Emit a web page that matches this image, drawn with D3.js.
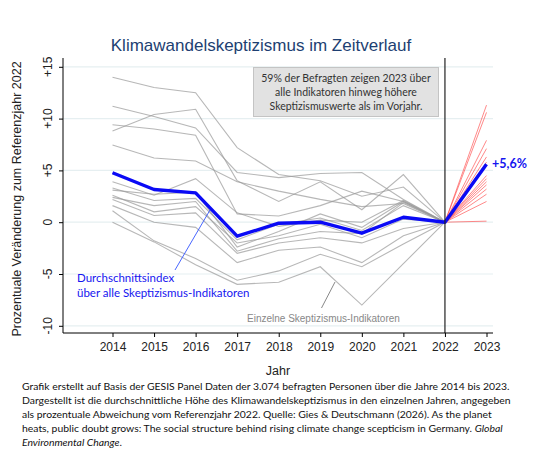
<!DOCTYPE html>
<html>
<head>
<meta charset="utf-8">
<script src="https://cdn.jsdelivr.net/npm/d3@7"></script>
<style>
  body { margin: 0; background: #fff; }
</style>
</head>
<body>
<div class="graph"></div>
<script>
// data
const years = [2014, 2015, 2016, 2017, 2018, 2019, 2020, 2021, 2022, 2023]
const yTicks = [15, 10, 5, 0, -5, -10]
const yTickLabels = ["+15", "+10", "+5", "0", "-5", "-10"]

// single indicators, 2014..2022 (relative to 2022)
const ind1 = [14.0, 13.0, 12.5, 7.2, 4.6, 4.0, 2.5, 3.4, 0]
const ind2 = [11.2, 10.2, 9.1, 4.8, 4.3, 4.7, 4.8, 2.2, 0]
const ind3 = [8.8, 10.4, 10.9, 4.0, 2.0, 3.9, 1.2, 4.6, 0]
const ind4 = [9.4, 9.0, 8.4, 0.8, 0.6, 1.6, 3.0, 2.0, 0]
const ind5 = [7.45, 6.2, 5.9, 3.9, 3.0, 2.2, 1.5, 1.8, 0]
const ind6 = [3.9, 2.6, 4.2, 0.9, -0.4, 0.2, 0.0, 2.1, 0]
const ind7 = [3.3, 2.1, 2.3, -1.7, -0.2, 0.4, -0.8, 1.6, 0]
const ind8 = [3.1, 2.7, 2.9, -2.4, -0.9, 0.8, -0.5, 2.0, 0]
const ind9 = [2.6, 1.0, 1.5, -2.0, -1.3, -0.2, -1.5, 0.3, 0]
const ind10 = [2.2, 0.65, 0.9, -3.0, -2.0, -1.5, -2.0, -0.6, 0]
const ind11 = [1.6, 0.0, -0.5, -3.9, -2.7, -2.4, -3.9, -1.3, 0]
const ind12 = [1.1, -1.8, -3.5, -5.6, -4.7, -3.1, -4.3, -2.1, 0]
const ind13 = [0.0, -1.9, -4.1, -6.0, -5.8, -4.3, -8.0, -4.0, 0]
const ind14 = [2.4, 1.6, 2.0, -2.8, -1.6, -0.9, -1.1, 1.9, 0]
const indicators = [ind1, ind2, ind3, ind4, ind5, ind6, ind7, ind8, ind9, ind10, ind11, ind12, ind13, ind14]

// change 2022 -> 2023 per indicator
const change2023 = [11.3, 10.6, 7.9, 7.1, 6.3, 5.8, 4.2, 3.9, 3.6, 3.2, 2.7, 2.0, 0.1, 4.5]

// mean index
const meanIndex = [4.77, 3.16, 2.83, -1.35, -0.1, 0.0, -1.06, 0.48, 0, 5.6]

const boxText = ["59% der Befragten zeigen 2023 über",
                 "alle Indikatoren hinweg höhere",
                 "Skeptizismuswerte als im Vorjahr."]
const caption = [
  "Grafik erstellt auf Basis der GESIS Panel Daten der 3.074 befragten Personen über die Jahre 2014 bis 2023.",
  "Dargestellt ist die durchschnittliche Höhe des Klimawandelskeptizismus in den einzelnen Jahren, angegeben",
  "als prozentuale Abweichung vom Referenzjahr 2022. Quelle: Gies & Deutschmann (2026). As the planet",
  "heats, public doubt grows: The social structure behind rising climate change scepticism in Germany. "
]

// svg
const W = 555, H = 470
const svg = d3.select('.graph')
  .append('svg')
  .attr('width', W)
  .attr('height', H)

const x = d3.scaleLinear().domain([2014, 2023]).range([112.5, 486.5])
const y = d3.scaleLinear().domain([-10, 15]).range([325.8, 66.8])

const plotL = 63, plotR = 493, plotT = 58, plotB = 333
const calibri = "Lato, 'Open Sans', sans-serif"
const arial = "'Liberation Sans', Arial, sans-serif"

// gridlines
svg.selectAll('line.grid')
  .data(yTicks)
  .enter()
  .append('line')
  .attr('class', 'grid')
  .attr('x1', plotL).attr('x2', plotR)
  .attr('y1', d => y(d)).attr('y2', d => y(d))
  .attr('stroke', '#e6eff1')
  .attr('stroke-width', 1.2)

// title
svg.append('text')
  .attr('x', 261).attr('y', 51)
  .attr('text-anchor', 'middle')
  .attr('font-family', arial)
  .attr('font-size', 17)
  .attr('fill', '#1d3f72')
  .text('Klimawandelskeptizismus im Zeitverlauf')

// annotation box
svg.append('rect')
  .attr('x', 253.5).attr('y', 67.5)
  .attr('width', 185).attr('height', 49)
  .attr('fill', '#e2e2e2')
  .attr('stroke', '#c4c4c4')
  .attr('stroke-width', 1)
svg.selectAll('text.box')
  .data(boxText)
  .enter()
  .append('text')
  .attr('class', 'box')
  .attr('x', 346)
  .attr('y', (d, i) => 82 + i * 13.8)
  .attr('text-anchor', 'middle')
  .attr('font-family', calibri)
  .attr('font-size', 10.5)
  .attr('fill', '#333')
  .text(d => d)

// gray indicator lines
const line = d3.line()
  .x((d, i) => x(years[i]))
  .y(d => y(d))

svg.selectAll('path.ind')
  .data(indicators)
  .enter()
  .append('path')
  .attr('class', 'ind')
  .attr('d', d => line(d))
  .attr('fill', 'none')
  .attr('stroke', '#999')
  .attr('stroke-opacity', 0.7)
  .attr('stroke-width', 1.1)

// red lines 2022 -> 2023
svg.selectAll('line.red')
  .data(change2023)
  .enter()
  .append('line')
  .attr('class', 'red')
  .attr('x1', x(2022)).attr('y1', y(0))
  .attr('x2', x(2023)).attr('y2', d => y(d))
  .attr('stroke', '#ff3b3b')
  .attr('stroke-opacity', 0.6)
  .attr('stroke-width', 1)

// leader lines
svg.append('line')
  .attr('x1', 175).attr('y1', 270)
  .attr('x2', 210).attr('y2', 210)
  .attr('stroke', '#3355ff').attr('stroke-width', 0.9)
svg.append('line')
  .attr('x1', 321.5).attr('y1', 308)
  .attr('x2', 335).attr('y2', 282)
  .attr('stroke', '#888').attr('stroke-width', 1)

// mean line
svg.append('path')
  .attr('d', line(meanIndex))
  .attr('fill', 'none')
  .attr('stroke', '#0a0af5')
  .attr('stroke-width', 3.4)
  .attr('stroke-linejoin', 'round')

// vertical reference line at 2022
svg.append('line')
  .attr('x1', x(2022)).attr('x2', x(2022))
  .attr('y1', plotT).attr('y2', plotB)
  .attr('stroke', '#222').attr('stroke-width', 1.2)

// axes
const yAxis = d3.axisLeft(y).tickValues(yTicks).tickSize(4).tickFormat('')
svg.append('g')
  .attr('transform', `translate(${plotL},0)`)
  .call(yAxis)
  .call(g => g.select('.domain').attr('d', `M-0,${plotT}V${plotB}`))
svg.selectAll('text.ytick')
  .data(yTicks)
  .enter()
  .append('text')
  .attr('class', 'ytick')
  .attr('transform', d => `translate(52,${y(d)}) rotate(-90)`)
  .attr('text-anchor', 'middle')
  .attr('font-family', arial)
  .attr('font-size', 12)
  .attr('fill', '#222')
  .text((d, i) => yTickLabels[i])

const xAxis = d3.axisBottom(x).tickValues(years).tickSize(4).tickFormat(d3.format('d'))
svg.append('g')
  .attr('transform', `translate(0,${plotB})`)
  .call(xAxis)
  .call(g => g.select('.domain').attr('d', `M${plotL},0H${plotR}`))
  .call(g => g.selectAll('text')
    .attr('font-family', arial)
    .attr('font-size', 12)
    .attr('fill', '#222')
    .attr('dy', '0.95em'))

svg.append('text')
  .attr('x', 278).attr('y', 375)
  .attr('text-anchor', 'middle')
  .attr('font-family', arial).attr('font-size', 12.5)
  .attr('fill', '#222')
  .text('Jahr')

svg.append('text')
  .attr('transform', 'translate(21,199) rotate(-90)')
  .attr('text-anchor', 'middle')
  .attr('font-family', arial).attr('font-size', 12.5)
  .attr('fill', '#222')
  .text('Prozentuale Veränderung zum Referenzjahr 2022')

// labels
svg.append('text')
  .attr('x', 77).attr('y', 282)
  .attr('font-family', calibri).attr('font-size', 11.5)
  .attr('fill', '#1515f0')
  .text('Durchschnittsindex')
svg.append('text')
  .attr('x', 77).attr('y', 297)
  .attr('font-family', calibri).attr('font-size', 11.5)
  .attr('fill', '#1515f0')
  .text('über alle Skeptizismus-Indikatoren')
svg.append('text')
  .attr('x', 247).attr('y', 322)
  .attr('font-family', arial).attr('font-size', 10)
  .attr('fill', '#888')
  .text('Einzelne Skeptizismus-Indikatoren')
svg.append('text')
  .attr('x', 492).attr('y', 168)
  .attr('font-family', calibri).attr('font-size', 12.5)
  .attr('font-weight', 'bold')
  .attr('fill', '#1515f0')
  .text('+5,6%')

// caption
const cap = svg.append('g')
  .attr('font-family', calibri)
  .attr('font-size', 10.4)
  .attr('fill', '#111')
cap.selectAll('text')
  .data(caption)
  .enter()
  .append('text')
  .attr('x', 22)
  .attr('y', (d, i) => 390 + i * 14)
  .text(d => d)
cap.select('text:nth-child(4)')
  .append('tspan').attr('font-style', 'italic').text('Global')
cap.append('text')
  .attr('x', 22).attr('y', 446)
  .call(t => t.append('tspan').attr('font-style', 'italic').text('Environmental Change'))
  .call(t => t.append('tspan').text('.'))
</script>
</body>
</html>
